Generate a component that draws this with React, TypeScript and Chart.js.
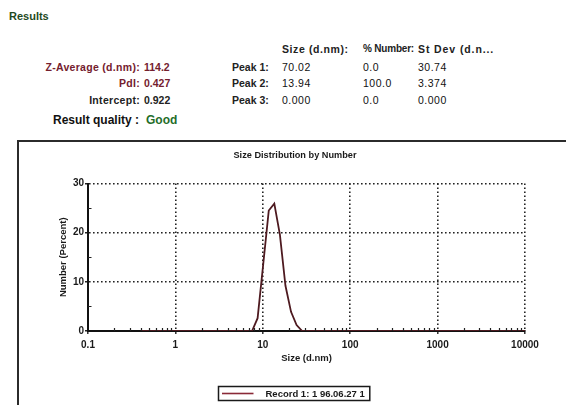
import React, { useEffect, useRef } from "react";
import { Chart, registerables } from "chart.js";

Chart.register(...registerables);

// ---- data ----
const sizes = [
  0.4, 0.4632, 0.5365, 0.6213, 0.7195, 0.8332, 0.9649, 1.117, 1.294, 1.499,
  1.736, 2.01, 2.328, 2.696, 3.122, 3.615, 4.187, 4.849, 5.615, 6.503,
  7.531, 8.721, 10.1, 11.7, 13.54, 15.69, 18.17, 21.04, 24.36, 28.21,
  32.67, 37.84, 43.82, 50.75, 58.77, 68.06, 78.82, 91.28, 105.7, 122.4,
  141.8, 164.2, 190.1, 220.2, 255.0, 295.3, 342.0, 396.1, 458.7, 531.2,
  615.1, 712.4, 825.0, 955.4, 1106, 1281, 1484, 1718, 1990, 2305,
  2669, 3091, 3580, 4145, 4801, 5560, 6439, 7456, 8635, 10000,
];
const numberPercent = [
  0, 0, 0, 0, 0, 0, 0, 0, 0, 0,
  0, 0, 0, 0, 0, 0, 0, 0, 0, 0,
  0, 2.6, 13.5, 24.5, 25.9, 19.6, 9.2, 3.9, 1.2, 0,
  0, 0, 0, 0, 0, 0, 0, 0, 0, 0,
  0, 0, 0, 0, 0, 0, 0, 0, 0, 0,
  0, 0, 0, 0, 0, 0, 0, 0, 0, 0,
  0, 0, 0, 0, 0, 0, 0, 0, 0, 0,
];
const seriesLabel = "Record 1: 1 96.06.27 1";
const chartTitle = "Size Distribution by Number";
const xTitle = "Size (d.nm)";
const yTitle = "Number (Percent)";
const xTickValues = [0.1, 1, 10, 100, 1000, 10000];
const xTickLabels = ["0.1", "1", "10", "100", "1000", "10000"];
const xMinorMultipliers = [2, 3, 4, 5, 6, 7, 8, 9];
const yTickValues = [0, 10, 20, 30];
const yTickLabels = ["0", "10", "20", "30"];
const yMinorTicks = [5, 15, 25];

// results table
const summaryLabels = ["Z-Average (d.nm):", "PdI:", "Intercept:"];
const summaryValues = ["114.2", "0.427", "0.922"];
const tableHeaders = ["Size (d.nm):", "% Number:", "St Dev (d.n..."];
const peakLabels = ["Peak 1:", "Peak 2:", "Peak 3:"];
const peakSizes = ["70.02", "13.94", "0.000"];
const peakNumbers = ["0.0", "100.0", "0.0"];
const peakStDevs = ["30.74", "3.374", "0.000"];

const FONT = '"Liberation Sans", Arial, sans-serif';
const LINE_COLOR = "#4e1a20";
const LEGEND_LINE = "#8a2a38";
const RED_TEXT = "#74202e";

type TProps = {
  x: number;
  y: number;
  text: string;
  color?: string;
  bold?: boolean;
  size?: number;
  right?: boolean;
  spacing?: number;
};

function T({ x, y, text, color = "#222", bold = true, size = 10.5, right = false, spacing = 0 }: TProps) {
  const style: React.CSSProperties = {
    position: "absolute",
    top: y - 7,
    lineHeight: "14px",
    height: 14,
    fontSize: size,
    fontWeight: bold ? "bold" : "normal",
    letterSpacing: spacing,
    color,
    whiteSpace: "nowrap",
    fontFamily: FONT,
  };
  if (right) style.right = 566 - x;
  else style.left = x;
  return <div style={style}>{text}</div>;
}

const overlayPlugin = {
  id: "overlay",
  afterDraw(chart: any) {
    const ctx = chart.ctx as CanvasRenderingContext2D;
    const xs = chart.scales.x;
    const ys = chart.scales.y;
    const area = chart.chartArea;
    ctx.save();
    // minor ticks
    ctx.strokeStyle = "#222";
    ctx.lineWidth = 1.2;
    ctx.beginPath();
    for (const v of yMinorTicks) {
      const py = Math.round(ys.getPixelForValue(v)) + 0.5;
      ctx.moveTo(area.left, py);
      ctx.lineTo(area.left + 3.5, py);
    }
    for (let d = 0; d < xTickValues.length - 1; d++) {
      for (const m of xMinorMultipliers) {
        const px = Math.round(xs.getPixelForValue(xTickValues[d] * m)) + 0.5;
        ctx.moveTo(px, area.bottom);
        ctx.lineTo(px, area.bottom - 3);
      }
    }
    ctx.stroke();

    // title
    ctx.font = `bold 9.2px ${FONT}`;
    ctx.fillStyle = "#1a1a1a";
    ctx.textAlign = "center";
    ctx.textBaseline = "middle";
    ctx.fillText(chartTitle, chart.width / 2 + 2.5, 13.7);

    // legend
    const ds = chart.data.datasets[0];
    ctx.font = `bold 9.5px ${FONT}`;
    const tw = ctx.measureText(ds.label).width;
    const bw = 3 + 32 + 12 + tw + 5;
    const bh = 14;
    const bx = Math.round(chart.width / 2 + 1 - bw / 2) + 0.5;
    const by = 244.5;
    ctx.lineWidth = 1.5;
    ctx.strokeStyle = "#1a1a1a";
    ctx.strokeRect(bx, by, bw, bh);
    ctx.strokeStyle = LEGEND_LINE;
    ctx.lineWidth = 1.6;
    ctx.beginPath();
    ctx.moveTo(bx + 3.5, by + bh / 2);
    ctx.lineTo(bx + 35, by + bh / 2);
    ctx.stroke();
    ctx.fillStyle = "#1a1a1a";
    ctx.textAlign = "left";
    ctx.fillText(ds.label, bx + 47, by + bh / 2 + 0.5);
    ctx.restore();
  },
};

function SizeChart() {
  const ref = useRef<HTMLCanvasElement | null>(null);
  useEffect(() => {
    if (!ref.current) return;
    const chart = new Chart(ref.current, {
      type: "line",
      data: {
        datasets: [
          {
            label: seriesLabel,
            data: sizes.map((s, i) => ({ x: s, y: numberPercent[i] })),
            borderColor: LINE_COLOR,
            backgroundColor: LINE_COLOR,
            borderWidth: 1.8,
            pointRadius: 0,
            tension: 0,
            fill: false,
          },
        ],
      },
      options: {
        animation: false,
        responsive: false,
        maintainAspectRatio: false,
        layout: { padding: { left: 36, right: 41, top: 41.5, bottom: 0 } },
        plugins: {
          legend: { display: false },
          title: { display: false },
          tooltip: { enabled: false },
        },
        scales: {
          x: {
            type: "logarithmic",
            min: 0.1,
            max: 10000,
            afterBuildTicks: (scale: any) => {
              scale.ticks = xTickValues.map((v) => ({ value: v }));
            },
            afterFit: (scale: any) => {
              scale.height = 74;
            },
            ticks: {
              autoSkip: false,
              maxRotation: 0,
              padding: 5,
              color: "#1a1a1a",
              font: { family: FONT, size: 10, weight: "bold" },
              callback: (_v: any, i: number) => xTickLabels[i],
            },
            grid: {
              color: "#222",
              lineWidth: 1.6,
              tickLength: 3,
              tickColor: "#222",
              tickWidth: 1.4,
              tickBorderDash: [],
            },
            border: { display: true, color: "#111", width: 2, dash: [1.6, 2.4] },
            title: {
              display: true,
              text: xTitle,
              color: "#1a1a1a",
              font: { family: FONT, size: 9.5, weight: "bold", lineHeight: 1.2 },
              padding: { top: 0, bottom: 41 },
            },
          },
          y: {
            type: "linear",
            min: 0,
            max: 30,
            afterBuildTicks: (scale: any) => {
              scale.ticks = yTickValues.map((v) => ({ value: v }));
            },
            afterFit: (scale: any) => {
              scale.width = 33;
            },
            ticks: {
              padding: 1,
              color: "#1a1a1a",
              font: { family: FONT, size: 10, weight: "bold" },
              callback: (_v: any, i: number) => yTickLabels[i],
            },
            grid: {
              color: "#222",
              lineWidth: 1.6,
              tickLength: 3,
              tickColor: "#222",
              tickWidth: 1.4,
              tickBorderDash: [],
            },
            border: { display: true, color: "#111", width: 2, dash: [1.6, 2.4] },
            title: {
              display: true,
              text: yTitle,
              color: "#1a1a1a",
              font: { family: FONT, size: 9.5, weight: "bold", lineHeight: 1.2 },
              padding: { top: 2.6, bottom: 0 },
            },
          },
        },
      },
      plugins: [overlayPlugin],
    } as any);
    return () => chart.destroy();
  }, []);
  return (
    <canvas
      ref={ref}
      width={547}
      height={263}
      style={{ position: "absolute", left: 19, top: 142, width: 547, height: 263 }}
    />
  );
}

export default function App() {
  const rowY = [67.3, 82.5, 100];
  return (
    <div
      style={{
        position: "fixed",
        left: 0,
        top: 0,
        width: 566,
        height: 405,
        overflow: "hidden",
        background: "#fff",
        fontFamily: FONT,
      }}
    >
      <T x={9} y={15.7} text="Results" color="#1f4a22" size={11} />
      <T x={282} y={48.7} text={tableHeaders[0]} spacing={0.6} />
      <T x={363} y={48.7} text={tableHeaders[1]} size={10} spacing={-0.2} />
      <T x={418} y={48.7} text={tableHeaders[2]} spacing={0.9} />
      {summaryLabels.map((s, i) => (
        <T key={"sl" + i} x={140} y={rowY[i]} text={s} right color={i < 2 ? RED_TEXT : "#222"} spacing={0.3} />
      ))}
      {summaryValues.map((s, i) => (
        <T key={"sv" + i} x={144} y={rowY[i]} text={s} color={i < 2 ? RED_TEXT : "#222"} />
      ))}
      {peakLabels.map((s, i) => (
        <T key={"pl" + i} x={232} y={rowY[i]} text={s} />
      ))}
      {peakSizes.map((s, i) => (
        <T key={"ps" + i} x={282} y={rowY[i]} text={s} bold={false} color="#111" spacing={0.5} />
      ))}
      {peakNumbers.map((s, i) => (
        <T key={"pn" + i} x={363} y={rowY[i]} text={s} bold={false} color="#111" spacing={0.5} />
      ))}
      {peakStDevs.map((s, i) => (
        <T key={"pd" + i} x={418} y={rowY[i]} text={s} bold={false} color="#111" spacing={0.5} />
      ))}
      <T x={53} y={120} text="Result quality :" color="#111" size={12} />
      <T x={146} y={120} text="Good" color="#1f6e2a" size={12} />
      <div
        style={{
          position: "absolute",
          left: 17,
          top: 140,
          width: 600,
          height: 300,
          border: "2px solid #2b2b2b",
          boxSizing: "border-box",
        }}
      />
      <SizeChart />
    </div>
  );
}
